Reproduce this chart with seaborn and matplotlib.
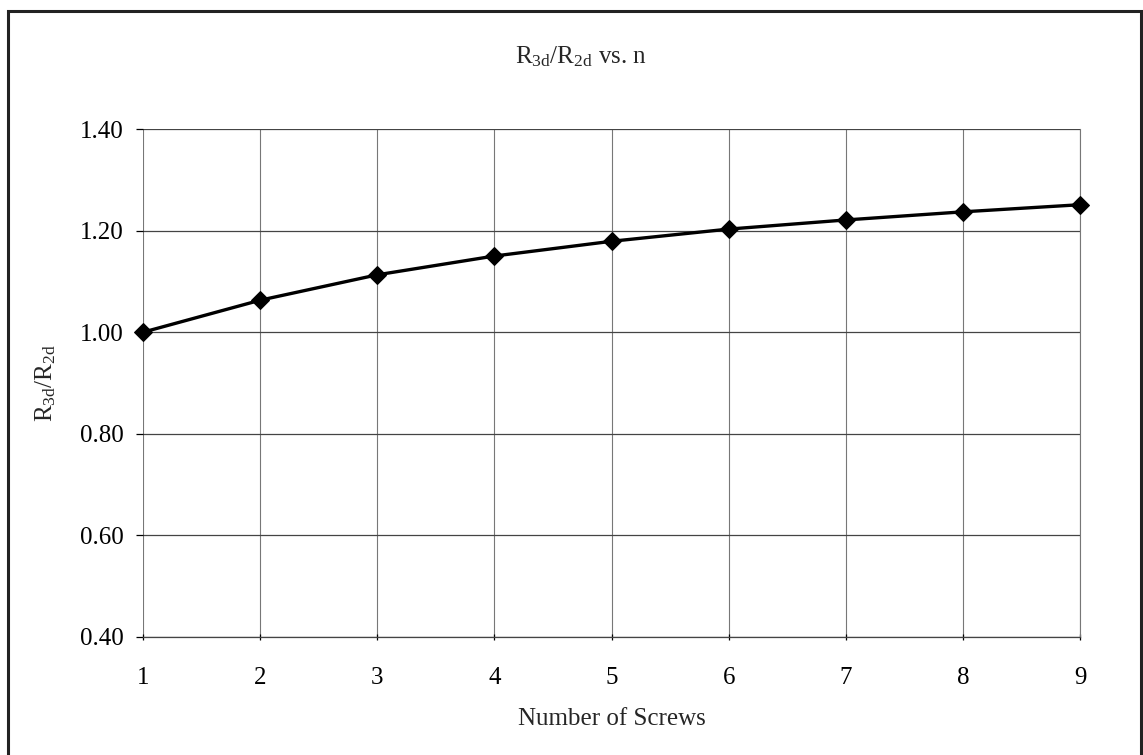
import matplotlib
matplotlib.use("Agg")
import matplotlib.pyplot as plt
from matplotlib.patches import Rectangle
import seaborn as sns
import pandas as pd

# Ratio of 3D to 2D resistance against number of screws
screws = [1, 2, 3, 4, 5, 6, 7, 8, 9]
ratio = [1.000, 1.063, 1.113, 1.150, 1.179, 1.203, 1.221, 1.237, 1.251]
y_ticks = [0.40, 0.60, 0.80, 1.00, 1.20, 1.40]

sns.set_theme(style="white")
plt.rcParams["font.family"] = ["Liberation Serif", "DejaVu Serif"]
plt.rcParams["mathtext.fontset"] = "custom"
plt.rcParams["mathtext.rm"] = "Liberation Serif"
plt.rcParams["mathtext.it"] = "Liberation Serif:italic"

df = pd.DataFrame({"n": screws, "ratio": ratio})

fig = plt.figure(figsize=(11.43, 7.55), dpi=100)
ax = fig.add_axes([0.1251, 0.1563, 0.8198, 0.6728])

sns.lineplot(data=df, x="n", y="ratio", ax=ax, color="black", linewidth=2.4,
             marker="D", markersize=9, markeredgecolor="black",
             markerfacecolor="black", zorder=3, clip_on=False)

ax.set_xlim(1, 9)
ax.set_ylim(0.40, 1.40)
ax.set_xticks(screws)
ax.set_yticks(y_ticks)
ax.set_yticklabels([f"{v:.2f}" for v in y_ticks])

ax.grid(True, axis="y", color="#444444", linewidth=0.9)
ax.grid(True, axis="x", color="#777777", linewidth=0.8)
for s in ["top", "left"]:
    ax.spines[s].set_visible(False)
ax.spines["right"].set_color("#777777")
ax.spines["right"].set_linewidth(0.8)
ax.spines["bottom"].set_color("#444444")
ax.spines["bottom"].set_linewidth(0.9)

ax.tick_params(axis="both", labelsize=18, colors="black", length=5, width=0.9)
ax.tick_params(axis="x", direction="inout", pad=19)
ax.tick_params(axis="y", direction="out", pad=9)
ax.xaxis.set_ticks_position("bottom")
ax.yaxis.set_ticks_position("left")

ax.set_xlabel("Number of Screws", fontsize=18, labelpad=14)
ax.set_ylabel(r"R$_{\rm 3d}$/R$_{\rm 2d}$", fontsize=18, labelpad=16)
fig.text(0.508, 0.925, r"R$_{\rm 3d}$/R$_{\rm 2d}$ vs. n", fontsize=18,
         ha="center", va="center")

# outer chart frame
fig.patches.append(Rectangle((8 / 1143, -0.05), (1141 - 8) / 1143,
                             1.05 - 11 / 755, transform=fig.transFigure,
                             fill=False, edgecolor="#222222", linewidth=2.2))

fig.savefig("out.png", dpi=100, facecolor="white")
